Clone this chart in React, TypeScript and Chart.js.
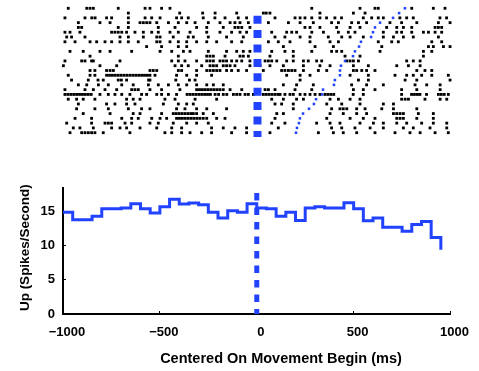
import React, { useEffect, useRef } from 'react';
import { Chart, registerables } from 'chart.js';

Chart.register(...registerables);

// ---------- DATA ----------
const binStarts = [
  -1000, -950, -900, -850, -800, -750, -700, -650, -600, -550,
  -500, -450, -400, -350, -300, -250, -200, -150, -100, -50,
  0, 50, 100, 150, 200, 250, 300, 350, 400, 450,
  500, 550, 600, 650, 700, 750, 800, 850, 900, 950,
];
const firingRate = [
  14.9, 13.8, 13.8, 14.3, 15.4, 15.4, 15.5, 16.15, 15.4, 14.8,
  15.7, 16.8, 16.1, 16.25, 16.0, 14.9, 14.05, 15.1, 14.9, 16.15,
  15.5, 15.4, 14.3, 14.9, 13.7, 15.5, 15.7, 15.5, 15.5, 16.3,
  15.4, 13.65, 14.05, 12.7, 12.7, 12.1, 13.1, 13.55, 11.2, 9.4,
];
const xTicks = [-1000, -500, 0, 500, 1000];
const yTicks = [0, 5, 10, 15];
const xLabel = 'Centered On Movement Begin (ms)';
const yLabel = 'Up (Spikes/Second)';

// movement end time for each trial (ms), top trial first
const movementEndMs = [
  758, 728, 697, 630, 604, 594, 584, 532, 522, 501, 491, 450, 429, 424,
  424, 398, 393, 337, 332, 301, 290, 265, 234, 218, 213, 203, 198,
];

// spike times (ms) per trial, top trial first
const trialSpikes: number[][] = [
  [-973, -878, -861, -844, -716, -578, -553, -493, -450, 279, 527, 604, 621, 793, 904, 964],
  [-664, -400, -282, -218, -107, 30, 45, 64, 321, 493, 553],
  [-990, -887, -852, -835, -776, -750, -664, -578, -544, -501, -416, -390, -356, -279, -219, -167, -99, -56, 90, 193, 219, 244, 279, 321, 355, 398, 432, 544, 587, 621, 647, 732, 767, 801, 938, 972],
  [-921, -810, -758, -664, -604, -587, -570, -553, -518, -458, -407, -364, -321, -253, -193, -141, -116, -90, -47, 56, 159, 219, 287, 381, 416, 484, 519, 561, 681, 741, 819, 930, 990],
  [-921, -904, -716, -664, -510, -424, -313, -261, -176, -116, -99, -81, -39, 244, 270, 321, 407, 476, 527, 664, 716, 750, 793, 913, 930, 947],
  [-990, -964, -913, -750, -733, -716, -698, -673, -630, -587, -544, -510, -450, -407, -347, -261, -193, -133, -90, -56, 73, 150, 176, 201, 279, 339, 416, 467, 501, 647, 716, 741, 793, 853, 879, 913, 947],
  [-981, -956, -887, -707, -664, -587, -518, -501, -433, -356, -330, -253, -159, -73, 90, 141, 219, 270, 364, 433, 476, 544, 647, 699, 750, 801, 930],
  [-990, -938, -861, -827, -784, -750, -707, -664, -613, -518, -501, -450, -407, -364, -313, -261, -210, -133, -81, 56, 107, 167, 270, 373, 416, 621, 690, 724, 896, 947],
  [-570, -493, -407, -364, 133, 296, 390, 639, 879, 904, 956, 990],
  [-964, -896, -810, -758, -647, -501, -441, -381, -347, -253, -159, -107, -73, -39, 73, 141, 184, 279, 381, 407, 433, 630, 853, 896],
  [-861, -407, -261, -244, -227, -167, -90, -73, -47, 64, 184, 450, 527, 853],
  [-990, -904, -887, -853, -844, -707, -441, -407, -373, -313, -261, -244, -227, -193, -176, -159, -133, -107, -81, -39, 39, 56, 73, 99, 150, 184, 236, 261, 304, 330, 459, 476, 493, 519, 767, 801, 836],
  [-998, -810, -724, -424, -390, -356, -287, -244, -227, -210, -176, -159, -141, -116, -39, 13, 64, 133, 236, 321, 373, 493, 570, 716, 776, 836],
  [-861, -836, -776, -758, -741, -553, -536, -518, -407, -390, -313, -261, -244, -227, -210, -193, -159, -133, -99, -56, 30, 124, 141, 159, 176, 193, 236, 313, 356, 493, 510, 536, 561, 604, 819, 861, 896],
  [-973, -861, -836, -776, -761, -746, -731, -716, -701, -686, -671, -656, -641, -626, -611, -596, -581, -566, -553, -527, -416, -364, -313, -236, 150, 219, 270, 476, 570, 707, 767, 801, 844, 896, 981],
  [-956, -870, -820, -793, -716, -700, -673, -560, -553, -420, -350, -321, 219, 519, 570, 759, 819, 990],
  [-921, -878, -818, -767, -698, -639, -561, -510, -458, -407, -364, -313, -261, -227, -176, 133, 201, 287, 484, 561, 647, 810, 870, 939],
  [-990, -887, -844, -784, -724, -647, -630, -613, -553, -493, -399, -313, -298, -283, -268, -253, -238, -223, -208, -193, -176, -141, -81, 39, 56, 90, 193, 279, 493, 544, 604, 741, 819, 939],
  [-990, -975, -960, -945, -930, -915, -900, -885, -870, -855, -810, -767, -733, -698, -656, -596, -570, -518, -493, -458, -416, -362, -347, -332, -317, -302, -287, -272, -257, -242, -218, -200, -176, -158, -124, -107, -90, -64, -47, -21, 30, 45, 60, 75, 90, 105, 116, 141, 167, 184, 219, 244, 270, 296, 321, 347, 362, 377, 392, 492, 544, 741, 792, 807, 822, 835, 869, 930, 945, 960, 981],
  [-973, -930, -896, -836, -673, -639, -604, -476, -424, -321, -210, 73, 133, 201, 236, 373, 416, 476, 527, 741, 759, 776, 861, 939, 973],
  [-921, -776, -733, -673, -630, -484, -407, -364, -330, 90, 124, 184, 356, 433, 527, 647, 699],
  [-930, -836, -767, -664, -596, -553, -416, -373, -313, -261, -159, 184, 381, 424, 441, 459, 510, 553, 639, 699, 819],
  [-896, -758, -639, -604, -493, -433, -418, -403, -388, -373, -358, -343, -330, -313, -279, -227, 99, 133, 373, 441, 510, 561, 699, 716, 733, 750, 827, 904],
  [-938, -853, -698, -647, -613, -544, -501, -467, -416, -401, -386, -371, -356, -341, -326, -311, -296, -279, -261, -210, -167, 90, 356, 476, 544, 604, 716, 733, 750, 819, 904],
  [-981, -853, -784, -767, -750, -681, -647, -553, -510, -433, -364, -313, -253, 73, 141, 304, 373, 424, 527, 596, 647, 716, 767, 844, 904, 973],
  [-947, -913, -844, -750, -707, -673, -604, -518, -441, -390, -236, -176, -116, -56, 107, 381, 433, 501, 579, 647, 750, 801, 887, 973],
  [-964, -904, -887, -870, -853, -836, -793, -656, -476, -441, -390, -347, -287, -236, -133, -56, 64, 313, 390, 441, 510, 604, 707, 784, 836, 913, 981],
];

// movement-onset marker (ms) and its extent in trial rows / firing-rate units
const onsetMs = 0;
const onsetRowSpan = [1.55, 26.9];
const onsetRateSpan = [17.7, 0];

// ---------- STYLE ----------
const BLUE = '#2142ff';
const FONT_FAMILY = '"Liberation Sans", Arial, sans-serif';

const fmtTick = (v: number) => (v < 0 ? '\u2212' + Math.abs(v) : String(v));

const axisTitlesPlugin = {
  id: 'axisTitles',
  afterDraw(chart: any) {
    const { ctx } = chart;
    const xs = chart.scales.x;
    const ys = chart.scales.y;
    ctx.save();
    ctx.fillStyle = '#000';
    ctx.textAlign = 'center';
    ctx.textBaseline = 'middle';
    ctx.font = `bold 14.5px ${FONT_FAMILY}`;
    ctx.fillText(xLabel, xs.getPixelForValue(125), chart.chartArea.bottom + 45);
    ctx.font = `bold 13.5px ${FONT_FAMILY}`;
    ctx.translate(25, ys.getPixelForValue(9.7));
    ctx.rotate(-Math.PI / 2);
    ctx.fillText(yLabel, 0, 0);
    ctx.restore();
  },
};

export default function App() {
  const topRef = useRef<HTMLCanvasElement>(null);
  const botRef = useRef<HTMLCanvasElement>(null);

  useEffect(() => {
    const spikePoints: { x: number; y: number }[] = [];
    trialSpikes.forEach((row, i) => row.forEach((t) => spikePoints.push({ x: t, y: i })));
    const endPoints = movementEndMs.map((t, i) => ({ x: t, y: i }));

    const top = new Chart(topRef.current as HTMLCanvasElement, {
      type: 'scatter',
      data: {
        datasets: [
          {
            data: [
              { x: onsetMs, y: onsetRowSpan[0] },
              { x: onsetMs, y: onsetRowSpan[1] },
            ],
            showLine: true,
            borderColor: BLUE,
            borderWidth: 8,
            borderDash: [8, 6.4],
            pointRadius: 0,
            clip: false,
          } as any,
          {
            data: endPoints,
            pointStyle: 'rect',
            pointRadius: 1.8,
            backgroundColor: BLUE,
            borderWidth: 0,
            clip: false,
          } as any,
          {
            data: spikePoints,
            pointStyle: 'rect',
            pointRadius: 2.0,
            backgroundColor: '#000',
            borderWidth: 0,
            clip: false,
          } as any,
        ],
      },
      options: {
        animation: false,
        responsive: false,
        devicePixelRatio: 1,
        events: [],
        layout: { padding: { left: 63, right: 27, top: 8.3, bottom: 12.3 } },
        scales: {
          x: { type: 'linear', min: -1000, max: 1000, display: false },
          y: { type: 'linear', min: 0, max: 26, reverse: true, display: false },
        },
        plugins: { legend: { display: false }, tooltip: { enabled: false } },
      },
    });

    const font = { family: FONT_FAMILY, size: 13, weight: 'bold' as const };
    const bot = new Chart(botRef.current as HTMLCanvasElement, {
      type: 'line',
      data: {
        datasets: [
          {
            data: binStarts.map((x, i) => ({ x, y: firingRate[i] })),
            stepped: 'before',
            borderColor: BLUE,
            borderWidth: 3,
            pointRadius: 0,
            fill: false,
            clip: false,
          } as any,
          {
            data: [
              { x: onsetMs, y: onsetRateSpan[0] },
              { x: onsetMs, y: onsetRateSpan[1] },
            ],
            borderColor: BLUE,
            borderWidth: 5,
            borderDash: [7.5, 7],
            pointRadius: 0,
            fill: false,
          } as any,
        ],
      },
      options: {
        animation: false,
        responsive: false,
        devicePixelRatio: 1,
        events: [],
        layout: { padding: { left: 0, right: 27, top: 38.3, bottom: 0 } },
        scales: {
          x: {
            type: 'linear',
            min: -1000,
            max: 1000,
            afterBuildTicks: (s: any) => {
              s.ticks = xTicks.map((v) => ({ value: v }));
            },
            afterFit: (s: any) => {
              s.height = 57;
            },
            grid: { display: true, drawOnChartArea: false, drawTicks: true, tickLength: -3, color: '#000', lineWidth: 1 },
            border: { display: true, color: '#000', width: 2 },
            ticks: {
              color: '#000',
              font,
              padding: 14,
              labelOffset: 4,
              maxRotation: 0,
              autoSkip: false,
              callback: (v: any) => fmtTick(Number(v)),
            },
          },
          y: {
            type: 'linear',
            min: 0,
            max: 18.4,
            afterBuildTicks: (s: any) => {
              s.ticks = yTicks.map((v) => ({ value: v }));
            },
            afterFit: (s: any) => {
              s.width = 63;
            },
            grid: { display: true, drawOnChartArea: false, drawTicks: true, tickLength: -3, color: '#000', lineWidth: 1 },
            border: { display: true, color: '#000', width: 2 },
            ticks: {
              color: '#000',
              font,
              padding: 11,
              autoSkip: false,
              callback: (v: any) => fmtTick(Number(v)),
            },
          },
        },
        plugins: { legend: { display: false }, tooltip: { enabled: false } },
      },
      plugins: [axisTitlesPlugin],
    });

    return () => {
      top.destroy();
      bot.destroy();
    };
  }, []);

  return (
    <div style={{ position: 'absolute', left: 0, top: 0, width: 479, height: 371, background: '#fff', overflow: 'hidden' }}>
      <canvas ref={topRef} width={479} height={145} style={{ position: 'absolute', left: 0, top: 0, width: 479, height: 145 }} />
      <canvas ref={botRef} width={479} height={221} style={{ position: 'absolute', left: 0, top: 150, width: 479, height: 221 }} />
    </div>
  );
}
